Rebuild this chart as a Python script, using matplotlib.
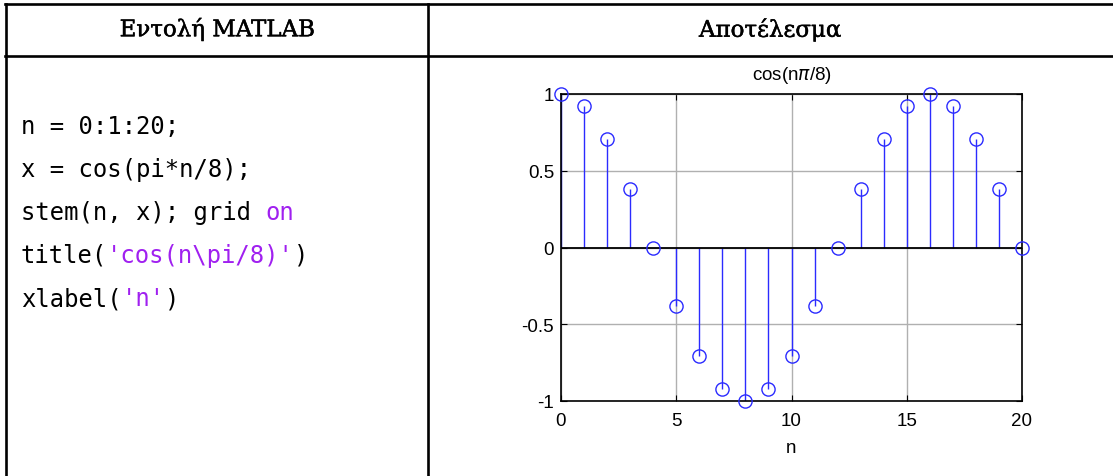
import matplotlib.pyplot as plt
import matplotlib.patheffects as pe
from matplotlib.lines import Line2D

# Data
n = list(range(21))
x = [1.0, 0.924, 0.707, 0.383, 0.0, -0.383, -0.707, -0.924, -1.0, -0.924, -0.707,
     -0.383, 0.0, 0.383, 0.707, 0.924, 1.0, 0.924, 0.707, 0.383, 0.0]
xticks = [0, 5, 10, 15, 20]
yticks = [-1, -0.5, 0, 0.5, 1]
ytick_labels = ['-1', '-0.5', '0', '0.5', '1']

headers = ['Εντολή MATLAB', 'Αποτέλεσμα']
# code lines: list of (text, colour) pieces
code_lines = [
    [('n = 0:1:20;', 'black')],
    [('x = cos(pi*n/8);', 'black')],
    [('stem(n, x); grid ', 'black'), ('on', '#a020f0')],
    [('title(', 'black'), ("'cos(n\\pi/8)'", '#a020f0'), (')', 'black')],
    [('xlabel(', 'black'), ("'n'", '#a020f0'), (')', 'black')],
]

W, H = 1113, 477
fig = plt.figure(figsize=(W / 100, H / 100), dpi=100)


def fx(px):
    return px / W


def fy(py):
    return 1 - py / H


# table lines
lw = 1.9
fig.add_artist(Line2D([fx(5), fx(W)], [fy(5), fy(5)], color='black', lw=lw))
fig.add_artist(Line2D([fx(5), fx(W)], [fy(57), fy(57)], color='black', lw=lw))
fig.add_artist(Line2D([fx(6), fx(6)], [fy(5), fy(H)], color='black', lw=lw))
fig.add_artist(Line2D([fx(428), fx(428)], [fy(5), fy(H)], color='black', lw=lw))

# headers (slightly heavier than regular)
heavy = [pe.withStroke(linewidth=0.35, foreground='black')]
fig.text(fx(217), fy(31), headers[0], ha='center', va='center',
         fontsize=16.5, family='DejaVu Serif', path_effects=heavy)
fig.text(fx(770), fy(31), headers[1], ha='center', va='center',
         fontsize=16.5, family='DejaVu Serif', path_effects=heavy)

# code
fs_code = 17.2
char_w = 0.602 * fs_code * 100 / 72
line_y = [127, 170, 213, 256, 299]
for pieces, yy in zip(code_lines, line_y):
    pos = 0
    for txt, col in pieces:
        fig.text(fx(21 + pos * char_w), fy(yy), txt, ha='left', va='center',
                 fontsize=fs_code, family='DejaVu Sans Mono', color=col)
        pos += len(txt)

# stem plot
ax = fig.add_axes([fx(561), fy(402), fx(1022) - fx(561), fy(95) - fy(402)])
ml, sl, bl = ax.stem(n, x, linefmt='-', markerfmt='o', basefmt='k-')
plt.setp(sl, color='#2b2bff', linewidth=1.0)
plt.setp(ml, markerfacecolor='none', markeredgecolor='#2b2bff', markersize=9.5,
         markeredgewidth=1.0, clip_on=False, zorder=4)
plt.setp(bl, linewidth=1.3)
ax.set_xlim(0, 20)
ax.set_ylim(-1, 1)
ax.set_xticks(xticks)
ax.set_yticks(yticks)
ax.set_yticklabels(ytick_labels)
ax.grid(True, color='#b0b0b0', linewidth=1.0)
ax.set_axisbelow(True)
ax.tick_params(direction='in', length=4, top=True, right=True,
               labelsize=13.5, pad=5)
ax.tick_params(axis='x', pad=8)
for lab in ax.get_xticklabels() + ax.get_yticklabels():
    lab.set_family('Liberation Sans')
for sp in ax.spines.values():
    sp.set_linewidth(1.2)
ax.set_title('cos(n$\\pi$/8)', fontsize=13.5, family='Liberation Sans', pad=11)
ax.set_xlabel('n', fontsize=13.5, family='Liberation Sans', labelpad=7)

fig.savefig('out.png', dpi=100)
